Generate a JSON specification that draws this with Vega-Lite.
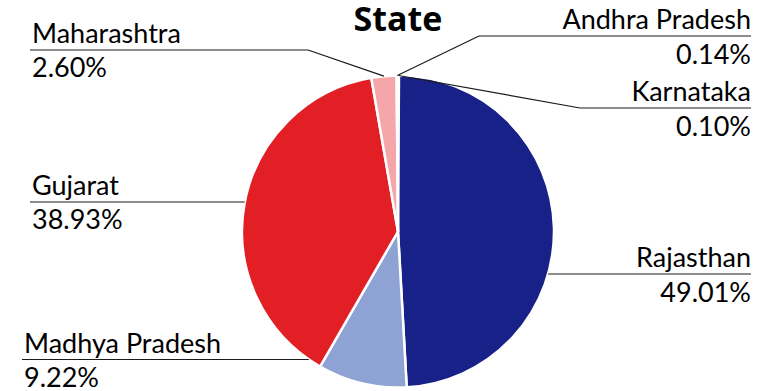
{
  "$schema": "https://vega.github.io/schema/vega-lite/v6.json",
  "width": 761,
  "height": 391,
  "autosize": "none",
  "padding": 0,
  "background": "white",
  "title": {"text": "State", "font": "Open Sans", "fontSize": 34, "fontWeight": "bold", "color": "#000000", "anchor": "middle", "frame": "group", "baseline": "alphabetic", "offset": 0, "dx": 17.5, "dy": 65},
  "config": {"view": {"stroke": null}},
  "data": {"values": [
    {"state": "Karnataka", "pct": 0.10},
    {"state": "Rajasthan", "pct": 49.01},
    {"state": "Madhya Pradesh", "pct": 9.22},
    {"state": "Gujarat", "pct": 38.93},
    {"state": "Maharashtra", "pct": 2.60},
    {"state": "Andhra Pradesh", "pct": 0.14}
  ]},
  "transform": [
    {"window": [{"op": "row_number", "as": "ord"}]},
    {"window": [{"op": "sum", "field": "pct", "as": "cum"}], "sort": [{"field": "ord"}], "frame": [null, 0]},
    {"calculate": "(datum.cum - datum.pct / 2) / 100 * 2 * PI", "as": "mid"},
    {"calculate": "[datum.state, format(datum.pct, '.2f') + '%']", "as": "txt"},
    {"calculate": "datum.state == 'Andhra Pradesh' || datum.state == 'Karnataka' || datum.state == 'Rajasthan' ? 1 : -1", "as": "side"},
    {"calculate": "datum.side > 0 ? 353 : (datum.state == 'Madhya Pradesh' ? -376 : -368)", "as": "tx"},
    {"calculate": "datum.state == 'Andhra Pradesh' ? -195.5 : datum.state == 'Karnataka' ? -123.5 : datum.state == 'Rajasthan' ? 42.5 : datum.state == 'Maharashtra' ? -181.5 : datum.state == 'Gujarat' ? -29.5 : 128", "as": "ly"},
    {"calculate": "datum.state == 'Andhra Pradesh' || datum.state == 'Karnataka' || datum.state == 'Maharashtra'", "as": "angled"},
    {"calculate": "datum.angled ? (datum.state == 'Andhra Pradesh' ? 81 : datum.state == 'Karnataka' ? 182 : -90) : datum.side * sqrt(156 * 156 - datum.ly * datum.ly)", "as": "ex"},
    {"calculate": "datum.angled ? 156 * sin(datum.mid) : datum.ex", "as": "px"},
    {"calculate": "datum.angled ? -156 * cos(datum.mid) : datum.ly", "as": "py"}
  ],
  "layer": [
    {
      "mark": {"type": "arc", "outerRadius": 156, "stroke": "white", "strokeWidth": 2.5},
      "encoding": {
        "x": {"datum": 0, "type": "quantitative", "scale": {"domain": [-398, 363], "nice": false, "zero": false}, "axis": null},
        "y": {"datum": 0, "type": "quantitative", "scale": {"domain": [-231.5, 159.5], "nice": false, "zero": false, "reverse": true}, "axis": null},
        "theta": {"field": "pct", "type": "quantitative", "stack": true},
        "order": {"field": "ord", "type": "quantitative"},
        "color": {"field": "state", "type": "nominal", "legend": null,
          "scale": {"domain": ["Karnataka", "Rajasthan", "Madhya Pradesh", "Gujarat", "Maharashtra", "Andhra Pradesh"],
                    "range": ["#c3cbe8", "#172188", "#8fa2d4", "#e31f26", "#f4a6a8", "#b9c4e6"]}}
      }
    },
    {
      "mark": {"type": "rule", "color": "#1a1a1a", "strokeWidth": 1.2},
      "encoding": {
        "x": {"field": "ex", "type": "quantitative", "axis": null},
        "x2": {"field": "tx"},
        "y": {"field": "ly", "type": "quantitative", "axis": null}
      }
    },
    {
      "mark": {"type": "rule", "color": "#1a1a1a", "strokeWidth": 1.2},
      "encoding": {
        "x": {"field": "ex", "type": "quantitative", "axis": null},
        "x2": {"field": "px"},
        "y": {"field": "ly", "type": "quantitative", "axis": null},
        "y2": {"field": "py"}
      }
    },
    {
      "transform": [{"filter": "datum.side > 0"}],
      "mark": {"type": "text", "align": "right", "baseline": "alphabetic", "dy": -7, "font": "Lato", "fontSize": 27, "lineHeight": 35, "color": "#000000"},
      "encoding": {
        "x": {"field": "tx", "type": "quantitative", "axis": null},
        "y": {"field": "ly", "type": "quantitative", "axis": null},
        "text": {"field": "txt"}
      }
    },
    {
      "transform": [{"filter": "datum.side < 0"}],
      "mark": {"type": "text", "align": "left", "baseline": "alphabetic", "dx": 2, "dy": -7, "font": "Lato", "fontSize": 27, "lineHeight": 34, "color": "#000000"},
      "encoding": {
        "x": {"field": "tx", "type": "quantitative", "axis": null},
        "y": {"field": "ly", "type": "quantitative", "axis": null},
        "text": {"field": "txt"}
      }
    }
  ]
}
